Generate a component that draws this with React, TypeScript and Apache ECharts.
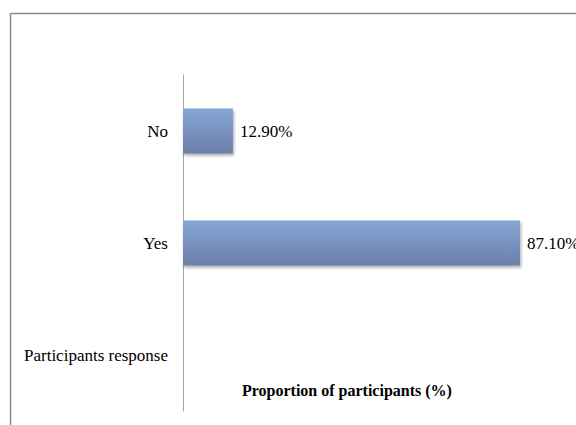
import React, { useEffect, useRef } from "react";
import * as echarts from "echarts";

const categories = ["Participants response", "Yes", "No"];
const values: (number | null)[] = [null, 87.1, 12.9];
const axisTitle = "Proportion of participants (%)";

export default function App() {
  const ref = useRef<HTMLDivElement>(null);
  useEffect(() => {
    const chart = echarts.init(ref.current!, null, { renderer: "svg" });
    chart.setOption({
      animation: false,
      backgroundColor: "#ffffff",
      textStyle: { fontFamily: "Liberation Serif" },
      grid: { left: 183, right: 6, top: 75, height: 336 },
      xAxis: {
        type: "value",
        min: 0,
        max: 100,
        show: false,
      },
      yAxis: {
        type: "category",
        data: categories,
        axisLine: { show: true, lineStyle: { color: "#a6a6a6", width: 1 } },
        axisTick: { show: false },
        axisLabel: {
          color: "#000",
          fontSize: 17,
          fontFamily: "Liberation Serif",
          margin: 15,
        },
        splitLine: { show: false },
      },
      series: [
        {
          type: "bar",
          data: values,
          barWidth: 45,
          itemStyle: {
            color: new echarts.graphic.LinearGradient(0, 0, 0, 1, [
              { offset: 0, color: "#88a5d6" },
              { offset: 1, color: "#6980a9" },
            ]),
            shadowColor: "rgba(0,0,0,0.35)",
            shadowBlur: 3,
            shadowOffsetX: 1,
            shadowOffsetY: 2,
          },
          label: {
            show: true,
            position: "right",
            distance: 7,
            color: "#000",
            fontSize: 17,
            fontFamily: "Liberation Serif",
            formatter: (p: any) => p.value.toFixed(2) + "%",
          },
        },
      ],
      graphic: [
        {
          type: "line",
          shape: { x1: 10.5, y1: 13.5, x2: 576, y2: 13.5 },
          style: { stroke: "#8c8c8c", lineWidth: 1.5 },
        },
        {
          type: "line",
          shape: { x1: 10.5, y1: 13.5, x2: 10.5, y2: 425 },
          style: { stroke: "#8c8c8c", lineWidth: 1.5 },
        },
        {
          type: "text",
          left: 242,
          top: 382,
          style: {
            text: axisTitle,
            fontSize: 16,
            fontWeight: "bold",
            fontFamily: "Liberation Serif",
            fill: "#000",
          },
        },
      ],
    });
    return () => chart.dispose();
  }, []);
  return <div ref={ref} style={{ width: 576, height: 425, position: "absolute", left: 0, top: 0 }} />;
}
